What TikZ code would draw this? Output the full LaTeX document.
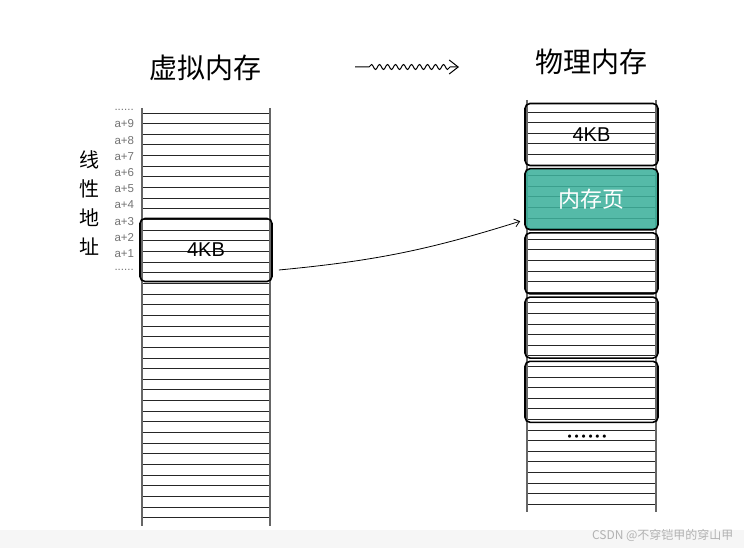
\documentclass[tikz,border=0pt]{standalone}
\usepackage{fontspec}
\setsansfont{Liberation Sans}
\newfontfamily\cjk{Noto Sans CJK SC}
\usetikzlibrary{arrows.meta,positioning,decorations.pathmorphing}
\definecolor{pageteal}{RGB}{62,176,156}
\newcommand\dotrow{\foreach \d in {1,...,6}{\textbullet\kern-2.2pt}}
\tikzset {
  >=Stealth,
  every node/.style={font=\sffamily},
  rule/.style={black!85,line width=.9pt},
  side/.style={gray!80!black,line width=1.4pt},
  page/.style={draw,line width=1.6pt,rounded corners=5pt,
    minimum width=133pt,minimum height=61pt,inner sep=0pt,
    font=\sffamily\fontsize{20}{20}\selectfont},
  addr/.style={font=\sffamily\fontsize{11.5}{11.5}\selectfont,text=gray!90!black,anchor=west},
  title/.style={font=\cjk\fontsize{28}{28}\selectfont},
}

\begin{document}
\begin{tikzpicture}[x=1pt,y=-1pt]
  \useasboundingbox (0,0) rectangle (744,548);
  \fill[gray!7] (0,530) rectangle (744,548);
  % titles
  \node[title] (virt) at (205,68) {虚拟内存};
  \node[title] (phys) at (591,62) {物理内存};
  \coordinate (wa) at (355,67);
  \coordinate (wb) at (459,67);
  \draw[-{Straight Barb[length=9pt,width=14pt]},line width=1pt,decorate,
    decoration={snake,amplitude=2.5pt,segment length=8pt,pre length=14pt,post length=9pt}]
    (wa) -- (wb);
  % virtual memory
  \foreach \i in {0,...,38}
    \draw[rule] (142,113+10.65*\i) -- (270,113+10.65*\i);
  \draw[side] (142,108) -- (142,526);
  \draw[side] (270,108) -- (270,526);
  \node[page,minimum width=132pt,minimum height=63pt] (vpage) at (206,250) {4KB};
  \node[addr] (topdots) at (111,110) {......};
  \foreach \k [count=\n] in {9,...,1}
    \node[addr] (a\k) at (111,124+16.2*\n-16.2) {a+\k};
  \node[addr] (botdots) at (111,270) {......};
  \node[font=\cjk\fontsize{20}{29}\selectfont,align=center] (linear) at (89,203) {线\\性\\地\\址};
  % physical memory
  \foreach \i in {0,...,37}
    \draw[rule] (527,112+10.6*\i) -- (656,112+10.6*\i);
  \draw[side] (527,100) -- (527,512);
  \draw[side] (656,100) -- (656,512);
  \node[page,minimum height=62pt] (pg1) at (591.5,134.5) {4KB};
  \node[page,below=1.6pt of pg1,fill=pageteal,fill opacity=.88,text opacity=1,text=white,
    font=\cjk\fontsize{22}{22}\selectfont] (pg2) {内存页};
  \node[page,below=1.6pt of pg2] (pg3) {};
  \node[page,below=1.6pt of pg3] (pg4) {};
  \node[page,below=1.6pt of pg4] (pg5) {};
  \node[font=\fontsize{12}{12}\selectfont,inner sep=0pt] (more) at (586,437) {\dotrow};
  % mapping
  \draw[-{Straight Barb[length=5pt,width=8pt]},line width=.8pt]
    ([xshift=6pt,yshift=-20pt]vpage.east) to[bend right=6] ([xshift=-4pt,yshift=-22pt]pg2.west);
  \node[font=\cjk\fontsize{12}{12}\selectfont,text=gray!60,anchor=east] (mark) at (737,535)
    {CSDN @不穿铠甲的穿山甲};
\end{tikzpicture}
\end{document}
